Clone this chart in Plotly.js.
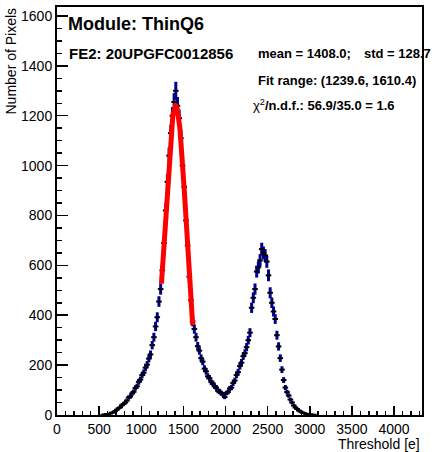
<!DOCTYPE html>
<html>
<head>
<meta charset="utf-8">
<script src="https://cdn.plot.ly/plotly-3.0.1.min.js"></script>
<style>html,body{margin:0;padding:0;background:#fff;}</style>
</head>
<body>
<div id="chart" style="width:437px;height:452px;"></div>
<script>
// Histogram bin centres (threshold, e) and contents (number of pixels)
const binCenters = [550,570,590,610,630,650,670,690,710,730,750,770,790,810,830,850,870,890,910,930,
950,970,990,1010,1030,1050,1070,1090,1110,1130,1150,1170,1190,1210,1230,1250,1270,1290,1310,1330,
1350,1370,1390,1410,1430,1450,1470,1490,1510,1530,1550,1570,1590,1610,1630,1650,1670,1690,1710,1730,
1750,1770,1790,1810,1830,1850,1870,1890,1910,1930,1950,1970,1990,2010,2030,2050,2070,2090,2110,2130,
2150,2170,2190,2210,2230,2250,2270,2290,2310,2330,2350,2370,2390,2410,2430,2450,2470,2490,2510,2530,
2550,2570,2590,2610,2630,2650,2670,2690,2710,2730,2750,2770,2790,2810,2830,2850,2870,2890,2910,2930,
2950,2970,2990,3010,3030,3050];
const counts = [1,2,4,3,6,9,11,16,21,27,31,39,44,50,58,70,74,86,93,108,
115,133,142,160,170,190,202,226,243,280,312,355,392,455,505,580,690,820,935,1040,
1130,1200,1255,1300,1240,1190,1110,1000,915,780,680,555,460,375,345,312,276,258,228,214,
186,175,155,148,132,127,115,110,97,95,86,84,72,88,92,106,110,128,138,160,
172,196,210,236,248,272,300,330,430,470,505,575,592,620,665,650,640,615,560,490,
450,415,385,320,275,228,182,140,110,92,78,62,50,38,30,24,18,14,10,8,
5,4,2,2,1,1];

// Gaussian fit parameters (from the fit shown on the chart)
const fitConstant = 1240;
const fitMean = 1408.0;
const fitSigma = 128.7;
const fitRange = [1239.6, 1610.4];

const xTickVals = [0,500,1000,1500,2000,2500,3000,3500,4000];
const yTickVals = [0,200,400,600,800,1000,1200,1400,1600];

const errs = counts.map(v => Math.sqrt(v));
const fitX = [], fitY = [];
for (let i = 0; i <= 80; i++) {
  const x = fitRange[0] + (fitRange[1] - fitRange[0]) * i / 80;
  fitX.push(x);
  fitY.push(fitConstant * Math.exp(-0.5 * Math.pow((x - fitMean) / fitSigma, 2)));
}

const FONT = "Liberation Sans, Arial, sans-serif";
const L = 57, R = 422, T = 7, B = 415;
const px = p => (p - L) / (R - L);
const py = p => (B - p) / (B - T);

const data = [
  {
    x: binCenters, y: counts, type: 'scatter', mode: 'markers',
    error_y: {type: 'data', array: errs, visible: true, color: '#00008c', thickness: 3, width: 0},
    marker: {symbol: 'line-ew-open', size: 4, color: '#000', line: {color: '#000', width: 2}},
    hoverinfo: 'x+y', showlegend: false
  },
  {
    x: fitX, y: fitY, type: 'scatter', mode: 'lines',
    line: {color: '#ff0000', width: 5}, showlegend: false
  }
];

const axisCommon = {
  showgrid: false, zeroline: false, showline: true, linecolor: '#000', linewidth: 2,
  mirror: true, ticks: 'inside', tickcolor: '#000', tickwidth: 1.5,
  tickfont: {family: FONT, size: 14, color: '#000'}
};

const layout = {
  width: 437, height: 452,
  margin: {l: L, r: 437 - R, t: T, b: 452 - B, pad: 0},
  paper_bgcolor: '#fff', plot_bgcolor: '#fff',
  showlegend: false,
  xaxis: Object.assign({}, axisCommon, {
    range: [0, 4332], tickmode: 'array', tickvals: xTickVals, ticktext: xTickVals.map(String),
    ticklen: 9, minor: {dtick: 100, ticklen: 4, ticks: 'inside', tickcolor: '#000', tickwidth: 1.5}
  }),
  yaxis: Object.assign({}, axisCommon, {
    range: [0, 1636], tickmode: 'array', tickvals: yTickVals, ticktext: yTickVals.map(String),
    ticklen: 11, minor: {dtick: 50, ticklen: 5, ticks: 'inside', tickcolor: '#000', tickwidth: 1.5}
  }),
  annotations: [
    {text: '<b>Module: ThinQ6</b>', xref: 'paper', yref: 'paper', x: px(66), y: py(24),
     xanchor: 'left', yanchor: 'middle', showarrow: false, font: {family: FONT, size: 18, color: '#000'}},
    {text: '<b>FE2: 20UPGFC0012856</b>', xref: 'paper', yref: 'paper', x: px(67), y: py(53),
     xanchor: 'left', yanchor: 'middle', showarrow: false, font: {family: FONT, size: 15, color: '#000'}},
    {text: '<b>mean = 1408.0;</b>', xref: 'paper', yref: 'paper', x: px(256), y: py(53),
     xanchor: 'left', yanchor: 'middle', showarrow: false, font: {family: FONT, size: 13, color: '#000'}},
    {text: '<b>std = 128.7</b>', xref: 'paper', yref: 'paper', x: px(362), y: py(53),
     xanchor: 'left', yanchor: 'middle', showarrow: false, font: {family: FONT, size: 13, color: '#000'}},
    {text: '<b>Fit range: (1239.6, 1610.4)</b>', xref: 'paper', yref: 'paper', x: px(256), y: py(80),
     xanchor: 'left', yanchor: 'middle', showarrow: false, font: {family: FONT, size: 13, color: '#000'}},
    {text: 'χ<sup>2</sup><b>/n.d.f.: 56.9/35.0 = 1.6</b>', xref: 'paper', yref: 'paper', x: px(251), y: py(105),
     xanchor: 'left', yanchor: 'middle', showarrow: false, font: {family: FONT, size: 13, color: '#000'}},
    {text: 'Number of Pixels', xref: 'paper', yref: 'paper', x: px(10), y: py(6), textangle: -90,
     xanchor: 'center', yanchor: 'top', showarrow: false, font: {family: FONT, size: 14, color: '#000'}},
    {text: 'Threshold [e]', xref: 'paper', yref: 'paper', x: px(422), y: py(444),
     xanchor: 'right', yanchor: 'middle', showarrow: false, font: {family: FONT, size: 14, color: '#000'}}
  ]
};

Plotly.newPlot('chart', data, layout, {staticPlot: true, displayModeBar: false});
</script>
</body>
</html>
